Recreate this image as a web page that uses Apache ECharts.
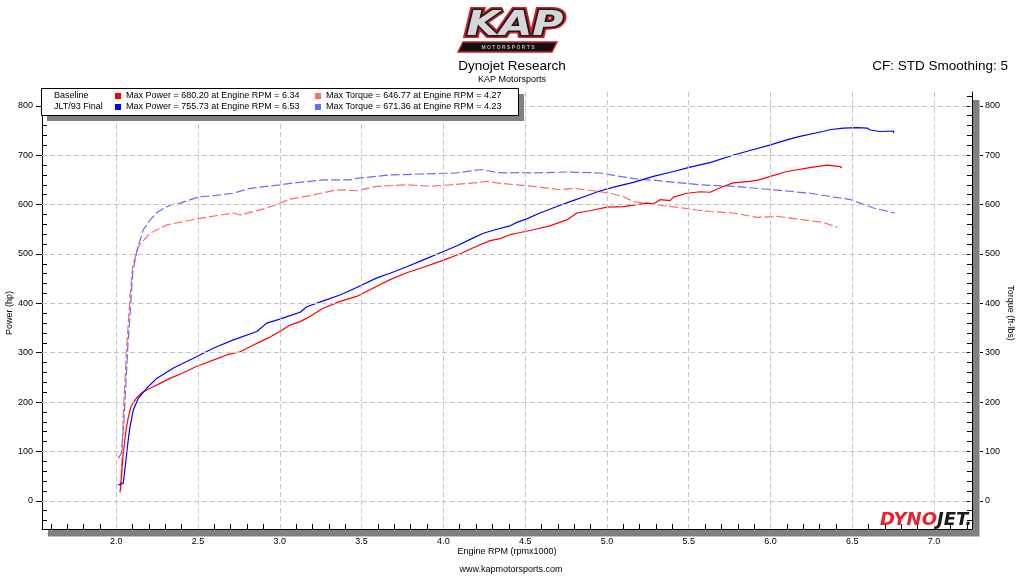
<!DOCTYPE html>
<html>
<head>
<meta charset="utf-8">
<script src="https://cdn.jsdelivr.net/npm/echarts@6/dist/echarts.min.js"></script>
<style>
html,body{margin:0;padding:0;background:#fff;}
#chart{width:1024px;height:576px;}
</style>
</head>
<body>
<div id="chart"></div>
<script>
// ---- data (rpm x1000, value) ----
const baselinePower = [[2.023,17],[2.03,42],[2.043,97],[2.06,144],[2.073,168],[2.09,191],[2.125,209],[2.16,220],[2.226,231],[2.28,240],[2.328,248],[2.4,258],[2.49,272],[2.593,285],[2.68,296],[2.757,302],[2.86,319],[2.93,330],[3.0,343],[3.063,356],[3.124,363],[3.165,370],[3.266,390],[3.368,404],[3.47,414],[3.572,431],[3.674,448],[3.776,462],[3.878,473],[3.98,485],[4.10,500],[4.18,512],[4.286,527],[4.347,531],[4.408,539],[4.449,542],[4.55,549],[4.65,557],[4.755,569],[4.816,583],[4.918,589],[5.0,595],[5.10,596],[5.162,599],[5.244,603],[5.284,601],[5.325,610],[5.386,608],[5.407,615],[5.489,623],[5.57,626],[5.63,625],[5.70,635],[5.77,644],[5.875,647],[5.93,650],[6.0,657],[6.10,667],[6.24,675],[6.345,680],[6.40,678],[6.426,677],[6.437,674]];
const baselineTorque = [[2.027,22],[2.035,90],[2.043,178],[2.064,312],[2.084,414],[2.10,474],[2.135,515],[2.206,542],[2.31,559],[2.51,572],[2.716,583],[2.757,579],[2.92,593],[3.0,603],[3.063,611],[3.185,618],[3.266,624],[3.348,630],[3.47,628],[3.59,637],[3.776,640],[3.92,637],[4.04,640],[4.22,645],[4.27,647],[4.347,643],[4.449,640],[4.55,637],[4.714,630],[4.796,633],[4.918,628],[5.02,623],[5.10,616],[5.162,606],[5.223,604],[5.284,601],[5.366,597],[5.468,593],[5.55,589],[5.63,586],[5.77,583],[5.92,574],[6.04,576],[6.18,570],[6.32,564],[6.41,554]];
const finalPower = [[2.012,32],[2.043,36],[2.055,70],[2.064,97],[2.075,128],[2.084,150],[2.104,184],[2.135,208],[2.186,228],[2.247,248],[2.35,269],[2.49,292],[2.593,309],[2.716,326],[2.86,343],[2.92,360],[3.0,368],[3.063,375],[3.124,382],[3.165,393],[3.266,405],[3.368,417],[3.47,432],[3.59,451],[3.674,461],[3.776,474],[3.878,488],[4.0,505],[4.08,516],[4.18,532],[4.245,542],[4.327,550],[4.408,557],[4.449,564],[4.51,571],[4.59,583],[4.694,596],[4.775,606],[4.877,618],[4.96,628],[5.06,637],[5.162,645],[5.284,657],[5.407,667],[5.509,676],[5.63,685],[5.77,700],[5.88,710],[6.0,721],[6.1,731],[6.18,738],[6.32,748],[6.37,752],[6.446,755],[6.53,756],[6.59,755],[6.61,751],[6.67,748],[6.75,749],[6.755,745]];
const finalTorque = [[2.012,86],[2.03,95],[2.045,150],[2.06,245],[2.072,320],[2.085,380],[2.10,461],[2.125,505],[2.165,549],[2.21,570],[2.257,586],[2.33,599],[2.39,603],[2.51,616],[2.6,618],[2.714,623],[2.82,633],[3.0,640],[3.063,643],[3.12,645],[3.266,650],[3.43,650],[3.47,653],[3.674,660],[3.878,662],[4.08,664],[4.23,671],[4.327,665],[4.408,664],[4.449,665],[4.55,664],[4.755,666],[4.96,664],[5.06,658],[5.20,651],[5.305,649],[5.407,645],[5.489,643],[5.57,640],[5.77,637],[5.98,631],[6.24,623],[6.49,610],[6.63,593],[6.76,583]];

const xLabelValues = [2.0,2.5,3.0,3.5,4.0,4.5,5.0,5.5,6.0,6.5,7.0];
const yLabelValues = [0,100,200,300,400,500,600,700,800];
const legendRows = [
  {name:'Baseline', power:'Max Power = 680.20 at Engine RPM = 6.34', torque:'Max Torque = 646.77 at Engine RPM = 4.27', pc:'#ff0000', tc:'#ff6a6a'},
  {name:'JLT/93 Final', power:'Max Power = 755.73 at Engine RPM = 6.53', torque:'Max Torque = 671.36 at Engine RPM = 4.23', pc:'#0000ff', tc:'#6a6aff'}
];

const xMinor = []; for (let i = 16; i <= 72; i++) xMinor.push(i / 10);
const yMinor = []; for (let v = -40; v <= 820; v += 20) yMinor.push(v);

const FONT = '"Liberation Sans", Arial, sans-serif';
const X_MIN = 1.546, X_MAX = 7.232, Y_MIN = -57, Y_MAX = 828;

const chart = echarts.init(document.getElementById('chart'), null, {renderer:'canvas'});

function yAx(extra) {
  return Object.assign({
    type:'value', min:Y_MIN, max:Y_MAX, splitLine:{show:false},
    axisLine:{show:false}, axisTick:{show:false}, axisLabel:{show:false}
  }, extra);
}

const gridMarks = xLabelValues.map(v => ({xAxis:v})).concat(yLabelValues.map(v => ({yAxis:v})));

const graphics = [];
// titles
graphics.push({type:'text', z:100, style:{text:'Dynojet Research', x:512, y:66, textAlign:'center', textVerticalAlign:'middle', font:'13.5px '+FONT, fill:'#000'}});
graphics.push({type:'text', z:100, style:{text:'KAP Motorsports', x:512, y:80, textAlign:'center', textVerticalAlign:'middle', font:'9px '+FONT, fill:'#000'}});
graphics.push({type:'text', z:100, style:{text:'CF: STD Smoothing: 5', x:1008, y:66, textAlign:'right', textVerticalAlign:'middle', font:'13.5px '+FONT, fill:'#000'}});
graphics.push({type:'text', z:100, style:{text:'Engine RPM (rpmx1000)', x:507, y:552, textAlign:'center', textVerticalAlign:'middle', font:'9px '+FONT, fill:'#000'}});
graphics.push({type:'text', z:100, style:{text:'www.kapmotorsports.com', x:511, y:570, textAlign:'center', textVerticalAlign:'middle', font:'9px '+FONT, fill:'#000'}});
graphics.push({type:'text', z:100, x:10, y:313, rotation:Math.PI/2, style:{text:'Power (hp)', x:0, y:0, textAlign:'center', textVerticalAlign:'middle', font:'9px '+FONT, fill:'#000'}});
graphics.push({type:'text', z:100, x:1010, y:313, rotation:-Math.PI/2, style:{text:'Torque (ft-lbs)', x:0, y:0, textAlign:'center', textVerticalAlign:'middle', font:'9px '+FONT, fill:'#000'}});
// plot shadows
graphics.push({type:'rect', z:50, shape:{x:48, y:530, width:931, height:6}, style:{fill:'#808080'}});
graphics.push({type:'rect', z:50, shape:{x:48, y:536, width:932, height:1}, style:{fill:'#c4c4c4'}});
graphics.push({type:'rect', z:50, shape:{x:973, y:100, width:6, height:436}, style:{fill:'#808080'}});
graphics.push({type:'rect', z:50, shape:{x:979, y:100, width:1, height:437}, style:{fill:'#c4c4c4'}});
// legend box
graphics.push({type:'rect', z:100, shape:{x:47, y:94, width:477, height:27}, style:{fill:'#808080'}});
graphics.push({type:'rect', z:101, shape:{x:41.5, y:88.5, width:477, height:27}, style:{fill:'#fff', stroke:'#000', lineWidth:1}});
legendRows.forEach((r, i) => {
  const yc = 96 + i * 11;
  graphics.push({type:'text', z:102, style:{text:r.name, x:54, y:yc, textVerticalAlign:'middle', font:'9px '+FONT, fill:'#000'}});
  graphics.push({type:'rect', z:102, shape:{x:115, y:yc-3, width:6, height:6}, style:{fill:r.pc}});
  graphics.push({type:'text', z:102, style:{text:r.power, x:126, y:yc, textVerticalAlign:'middle', font:'9px '+FONT, fill:'#000'}});
  graphics.push({type:'rect', z:102, shape:{x:315, y:yc-3, width:6, height:6}, style:{fill:r.tc}});
  graphics.push({type:'text', z:102, style:{text:r.torque, x:326, y:yc, textVerticalAlign:'middle', font:'9px '+FONT, fill:'#000'}});
});
// KAP logo
graphics.push({type:'polygon', z:100, shape:{points:[[458,52],[552,52],[557,42],[463,42]]}, style:{fill:'#111', stroke:'#d0202a', lineWidth:1.5}});
graphics.push({type:'text', z:101, style:{text:'M O T O R S P O R T S', x:508, y:47.5, textAlign:'center', textVerticalAlign:'middle', font:'bold 5px '+FONT, fill:'#bbb'}});
graphics.push({type:'text', z:100, x:515, y:26, scaleX:1.25, style:{text:'KAP', x:0, y:0, textAlign:'center', textVerticalAlign:'middle', font:'italic 900 34px "DejaVu Sans", sans-serif', fill:'#ddd', stroke:'#d0202a', lineWidth:6}});
graphics.push({type:'text', z:101, x:515, y:26, scaleX:1.25, style:{text:'KAP', x:0, y:0, textAlign:'center', textVerticalAlign:'middle', font:'italic 900 34px "DejaVu Sans", sans-serif', fill:'#1a1a1a', stroke:'#1a1a1a', lineWidth:3}});
graphics.push({type:'text', z:102, x:515, y:26, scaleX:1.25, style:{text:'KAP', x:0, y:0, textAlign:'center', textVerticalAlign:'middle', font:'italic 900 34px "DejaVu Sans", sans-serif', fill:'#d6d6d6'}});
// DYNOJET logo
graphics.push({type:'text', z:60, style:{text:'{a|DYNO}{b|JET.}', x:972, y:529, textAlign:'right', textVerticalAlign:'bottom', font:'italic bold 18px "DejaVu Sans", sans-serif',
  rich:{a:{fill:'#e8222c', font:'italic bold 18px "DejaVu Sans", sans-serif'}, b:{fill:'#1a1a1a', font:'italic bold 18px "DejaVu Sans", sans-serif'}}}});

const option = {
  animation:false,
  backgroundColor:'#fff',
  grid:{left:42, right:52, top:92, bottom:47, containLabel:false},
  xAxis:[{
    type:'value', min:X_MIN, max:X_MAX, splitLine:{show:false},
    axisLine:{show:true, onZero:false, lineStyle:{color:'#000', width:1}},
    axisTick:{show:true, inside:true, length:5, customValues:xMinor, lineStyle:{color:'#000'}},
    axisLabel:{show:true, customValues:xLabelValues, margin:8, color:'#000', fontFamily:FONT, fontSize:9, formatter:v => v.toFixed(1)}
  }],
  yAxis:[
    yAx({position:'left', axisLine:{show:true, onZero:false, lineStyle:{color:'#000'}},
      axisTick:{show:true, inside:false, length:6, customValues:yLabelValues, lineStyle:{color:'#000'}},
      axisLabel:{show:true, customValues:yLabelValues, margin:9, color:'#000', fontFamily:FONT, fontSize:9}}),
    yAx({position:'left', axisTick:{show:true, inside:true, length:5, customValues:yMinor, lineStyle:{color:'#000'}}}),
    yAx({position:'right', axisLine:{show:true, onZero:false, lineStyle:{color:'#000'}},
      axisTick:{show:true, inside:true, length:5, customValues:yMinor, lineStyle:{color:'#000'}}}),
    yAx({position:'right', offset:7, axisTick:{show:true, inside:false, length:4, customValues:yLabelValues, lineStyle:{color:'#000'}},
      axisLabel:{show:true, customValues:yLabelValues, margin:6, color:'#000', fontFamily:FONT, fontSize:9}})
  ],
  graphic:{elements:graphics},
  series:[
    {type:'line', z:1, data:[[2,0]], yAxisIndex:0, showSymbol:false, lineStyle:{opacity:0}, silent:true,
      markLine:{silent:true, symbol:'none', label:{show:false}, animation:false,
        lineStyle:{color:'#c4c4c4', type:[5,3], width:1}, data:gridMarks}},
    {type:'line', z:2, name:'Baseline Torque', data:baselineTorque, yAxisIndex:2, showSymbol:false, lineStyle:{color:'#ff6a6a', width:1.2, type:[9,3]}},
    {type:'line', z:2, name:'Final Torque', data:finalTorque, yAxisIndex:2, showSymbol:false, lineStyle:{color:'#6a6aff', width:1.2, type:[9,3]}},
    {type:'line', z:3, name:'Baseline Power', data:baselinePower, yAxisIndex:0, showSymbol:false, lineStyle:{color:'#ff0000', width:1.2}},
    {type:'line', z:3, name:'Final Power', data:finalPower, yAxisIndex:0, showSymbol:false, lineStyle:{color:'#0000ff', width:1.2}}
  ]
};
chart.setOption(option);
</script>
</body>
</html>
